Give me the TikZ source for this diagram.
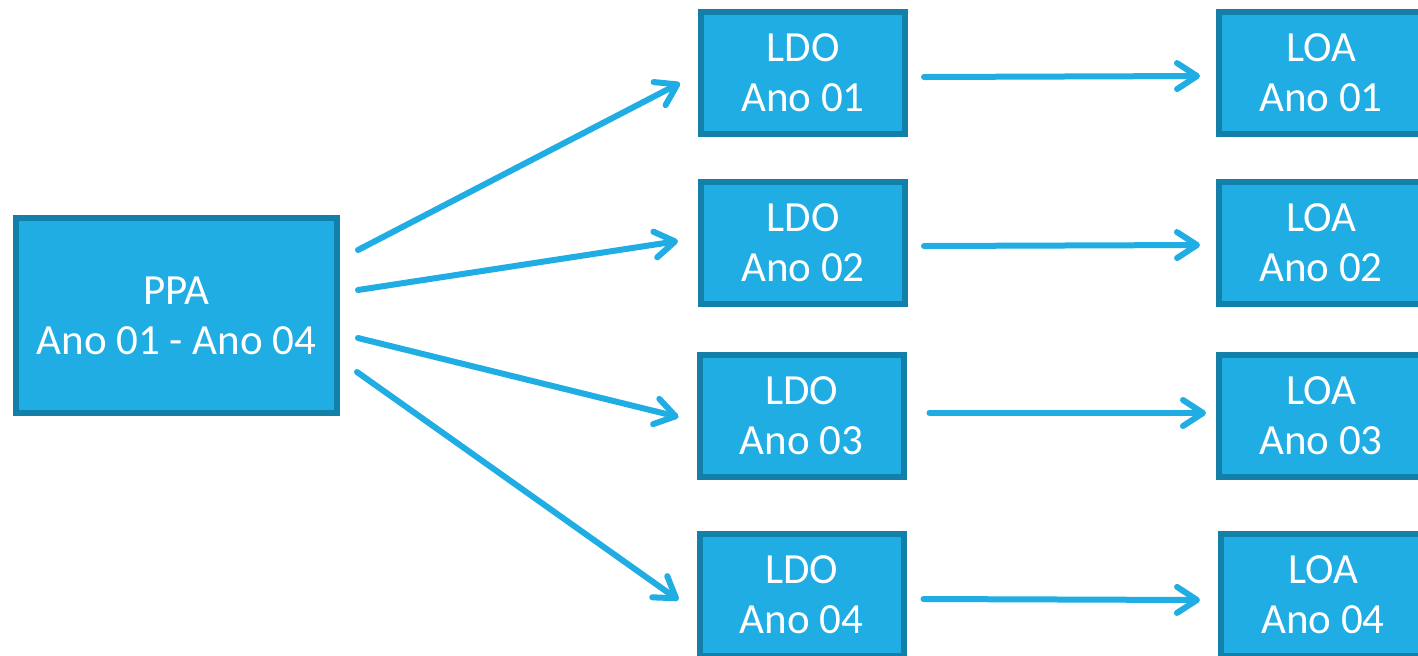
\documentclass[tikz,border=0pt]{standalone}
\usepackage{fontspec}
\setmainfont{Carlito}
\usetikzlibrary{arrows.meta}
\definecolor{caixa}{RGB}{31,173,228}
\definecolor{borda}{RGB}{19,128,170}

\begin{document}
\begin{tikzpicture}
    [ x=0.5pt, y=-0.5pt
    , box/.style={draw=borda, fill=caixa, line width=3pt, text=white,
        align=center, font=\fontsize{21.5}{25}\selectfont,
        minimum width=102pt, minimum height=61pt, inner sep=0pt}
    , bigbox/.style={box, minimum width=160.5pt, minimum height=97.5pt}
    , seta/.style={draw=caixa, line width=3pt, line cap=round,
        -{Straight Barb[length=10pt, width=13pt, line cap=round, line join=round]}}
    ]
  \useasboundingbox (0,0) rectangle (1418,655);
  \node[bigbox] (ppa) at (176.5,315.5) {PPA\\Ano 01 - Ano 04};
  \node[box] (ldo1) at (803,73) {LDO\\Ano 01};
  \node[box] (ldo2) at (803,243) {LDO\\Ano 02};
  \node[box] (ldo3) at (801.5,416) {LDO\\Ano 03};
  \node[box] (ldo4) at (801.5,595) {LDO\\Ano 04};
  \node[box] (loa1) at (1321,73) {LOA\\Ano 01};
  \node[box] (loa2) at (1321,243) {LOA\\Ano 02};
  \node[box] (loa3) at (1321,416) {LOA\\Ano 03};
  \node[box] (loa4) at (1323,595) {LOA\\Ano 04};

  \draw[seta] ([shift={(18,-65.5)}]ppa.east) -- ([shift={(-18,10)}]ldo1.west);
  \draw[seta] ([shift={(18,-25.5)}]ppa.east) -- ([shift={(-20,-2)}]ldo2.west);
  \draw[seta] ([shift={(18,22.5)}]ppa.east) -- ([shift={(-18,1)}]ldo3.west);
  \draw[seta] ([shift={(17,56.5)}]ppa.east) -- ([shift={(-18,5)}]ldo4.west);

  \draw[seta] ([shift={(16,4)}]ldo1.east) -- ([shift={(-16,3)}]loa1.west);
  \draw[seta] ([shift={(16,3)}]ldo2.east) -- ([shift={(-16,2)}]loa2.west);
  \draw[seta] ([shift={(23,-3)}]ldo3.east) -- ([shift={(-10,-3)}]loa3.west);
  \draw[seta] ([shift={(17,4)}]ldo4.east) -- ([shift={(-18,5)}]loa4.west);
\end{tikzpicture}
\end{document}
